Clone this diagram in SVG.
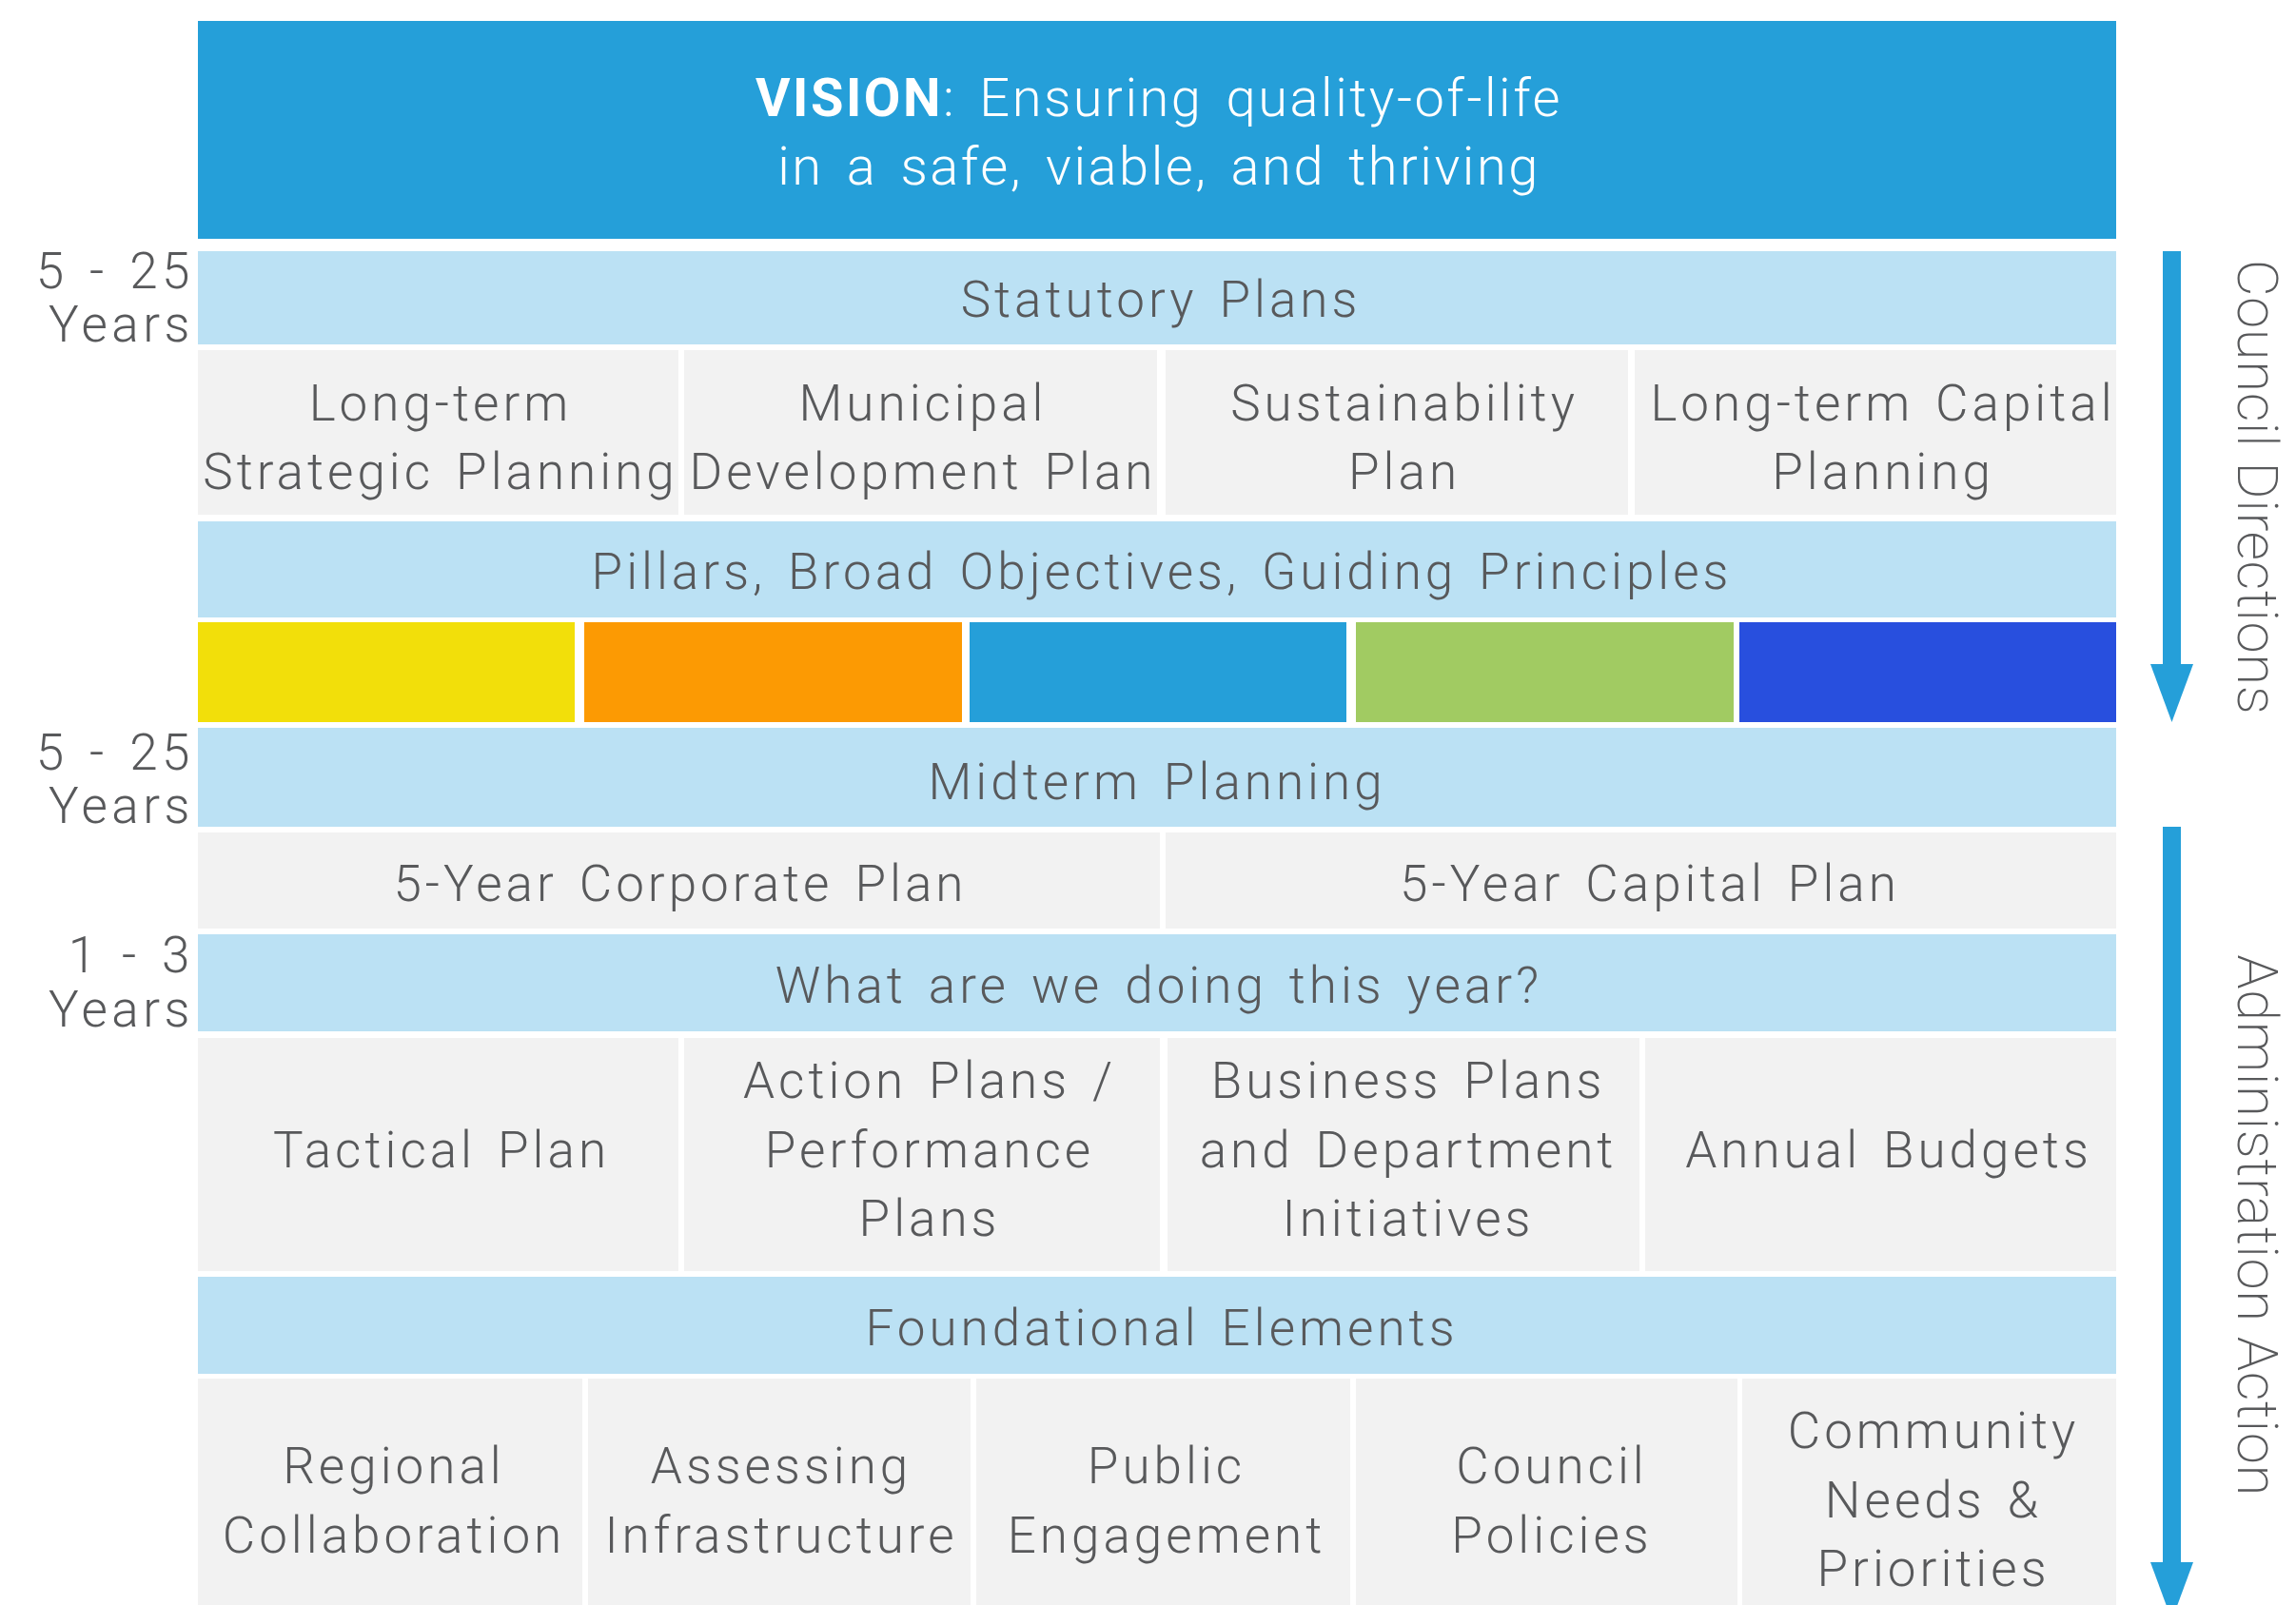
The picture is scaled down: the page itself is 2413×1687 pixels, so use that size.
<svg xmlns="http://www.w3.org/2000/svg" width="2413" height="1687" viewBox="0 0 2413 1687">
<defs>
<style>
.bg{fill:#ffffff}
.vision{fill:#259FD9}
.bar{fill:#BBE1F4}
.cell{fill:#F2F2F2}
text{font-family:Roboto,"Liberation Sans",sans-serif;font-weight:300;fill:#58595B}
.t{font-size:53px;letter-spacing:4px;word-spacing:6px;text-anchor:middle}
.yr{font-size:53px;letter-spacing:4.5px;word-spacing:5px;text-anchor:end}
.vt{font-size:56px;letter-spacing:2.5px;word-spacing:8px;text-anchor:middle;fill:#ffffff}
.vt tspan.b{font-weight:700}
.side{font-size:60px;font-weight:200;letter-spacing:0.5px;text-anchor:middle}
.arrow{stroke:#259FD9;stroke-width:19;fill:none;marker-end:url(#head)}
</style>
<marker id="head" markerUnits="userSpaceOnUse" markerWidth="62" markerHeight="46" viewBox="0 -23 62 46" refX="0" refY="0" orient="auto">
<path d="M0,-22.5 L61,0 L0,22.5 Z" fill="#259FD9"/>
</marker>
</defs>
<rect class="bg" x="0" y="0" width="2413" height="1687"/>

<g id="vision">
<rect class="vision" x="208" y="22" width="2016" height="229"/>
<text class="vt" x="1218" y="122"><tspan class="b">VISION</tspan>: Ensuring quality-of-life</text>
<text class="vt" x="1218" y="194">in a safe, viable, and thriving</text>
</g>

<g id="timeframes">
<text class="yr" x="204" y="303">5 - 25</text>
<text class="yr" x="204" y="359">Years</text>
<text class="yr" x="204" y="809">5 - 25</text>
<text class="yr" x="204" y="865">Years</text>
<text class="yr" x="204" y="1022">1 - 3</text>
<text class="yr" x="204" y="1079">Years</text>
</g>

<g id="statutory-plans">
<rect class="bar" x="208" y="264" width="2016" height="98"/>
<text class="t" x="1220" y="333">Statutory Plans</text>
</g>

<g id="long-term-strategic-planning">
<rect class="cell" x="208" y="368" width="505" height="173"/>
<text class="t" x="463" y="442">Long-term</text>
<text class="t" x="463" y="514">Strategic Planning</text>
</g>
<g id="municipal-development-plan">
<rect class="cell" x="719" y="368" width="497" height="173"/>
<text class="t" x="970" y="442">Municipal</text>
<text class="t" x="970" y="514">Development Plan</text>
</g>
<g id="sustainability-plan">
<rect class="cell" x="1225" y="368" width="486" height="173"/>
<text class="t" x="1476" y="442">Sustainability</text>
<text class="t" x="1476" y="514">Plan</text>
</g>
<g id="long-term-capital-planning">
<rect class="cell" x="1718" y="368" width="506" height="173"/>
<text class="t" x="1979" y="442">Long-term Capital</text>
<text class="t" x="1979" y="514">Planning</text>
</g>

<g id="pillars">
<rect class="bar" x="208" y="548" width="2016" height="101"/>
<text class="t" x="1221" y="619">Pillars, Broad Objectives, Guiding Principles</text>
</g>

<g id="pillar-colours">
<rect x="208" y="654" width="396" height="105" fill="#F2DF0A"/>
<rect x="614" y="654" width="397" height="105" fill="#FC9A03"/>
<rect x="1019" y="654" width="396" height="105" fill="#259FD9"/>
<rect x="1425" y="654" width="397" height="105" fill="#A1CB62"/>
<rect x="1828" y="654" width="396" height="105" fill="#284FDE"/>
</g>

<g id="midterm-planning">
<rect class="bar" x="208" y="765" width="2016" height="104"/>
<text class="t" x="1216" y="840">Midterm Planning</text>
</g>

<g id="corporate-plan">
<rect class="cell" x="208" y="875" width="1011" height="101"/>
<text class="t" x="715" y="947">5-Year Corporate Plan</text>
</g>
<g id="capital-plan">
<rect class="cell" x="1225" y="875" width="999" height="101"/>
<text class="t" x="1734" y="947">5-Year Capital Plan</text>
</g>

<g id="this-year">
<rect class="bar" x="208" y="982" width="2016" height="102"/>
<text class="t" x="1218" y="1054">What are we doing this year?</text>
</g>

<g id="tactical-plan">
<rect class="cell" x="208" y="1091" width="505" height="245"/>
<text class="t" x="464" y="1227">Tactical Plan</text>
</g>
<g id="action-plans">
<rect class="cell" x="719" y="1091" width="500" height="245"/>
<text class="t" x="977" y="1154">Action Plans /</text>
<text class="t" x="977" y="1227">Performance</text>
<text class="t" x="977" y="1299">Plans</text>
</g>
<g id="business-plans">
<rect class="cell" x="1227" y="1091" width="496" height="245"/>
<text class="t" x="1480" y="1154">Business Plans</text>
<text class="t" x="1480" y="1227">and Department</text>
<text class="t" x="1480" y="1299">Initiatives</text>
</g>
<g id="annual-budgets">
<rect class="cell" x="1729" y="1091" width="495" height="245"/>
<text class="t" x="1985" y="1227">Annual Budgets</text>
</g>

<g id="foundational-elements">
<rect class="bar" x="208" y="1342" width="2016" height="102"/>
<text class="t" x="1221" y="1414">Foundational Elements</text>
</g>

<g id="regional-collaboration">
<rect class="cell" x="208" y="1449" width="404" height="238"/>
<text class="t" x="414" y="1559">Regional</text>
<text class="t" x="414" y="1632">Collaboration</text>
</g>
<g id="assessing-infrastructure">
<rect class="cell" x="618" y="1449" width="402" height="238"/>
<text class="t" x="821" y="1559">Assessing</text>
<text class="t" x="821" y="1632">Infrastructure</text>
</g>
<g id="public-engagement">
<rect class="cell" x="1026" y="1449" width="393" height="238"/>
<text class="t" x="1226" y="1559">Public</text>
<text class="t" x="1226" y="1632">Engagement</text>
</g>
<g id="council-policies">
<rect class="cell" x="1425" y="1449" width="401" height="238"/>
<text class="t" x="1631" y="1559">Council</text>
<text class="t" x="1631" y="1632">Policies</text>
</g>
<g id="community-needs">
<rect class="cell" x="1831" y="1449" width="393" height="238"/>
<text class="t" x="2032" y="1522">Community</text>
<text class="t" x="2032" y="1595">Needs &amp;</text>
<text class="t" x="2032" y="1667">Priorities</text>
</g>

<g id="connectors">
<line class="arrow" x1="2282.5" y1="264" x2="2282.5" y2="698"/>
<line class="arrow" x1="2282.5" y1="869" x2="2282.5" y2="1642"/>
</g>

<g id="council-directions">
<text class="side" transform="translate(2352,512) rotate(90)">Council Directions</text>
</g>
<g id="administration-action">
<text class="side" transform="translate(2352,1288) rotate(90)">Administration Action</text>
</g>
</svg>
